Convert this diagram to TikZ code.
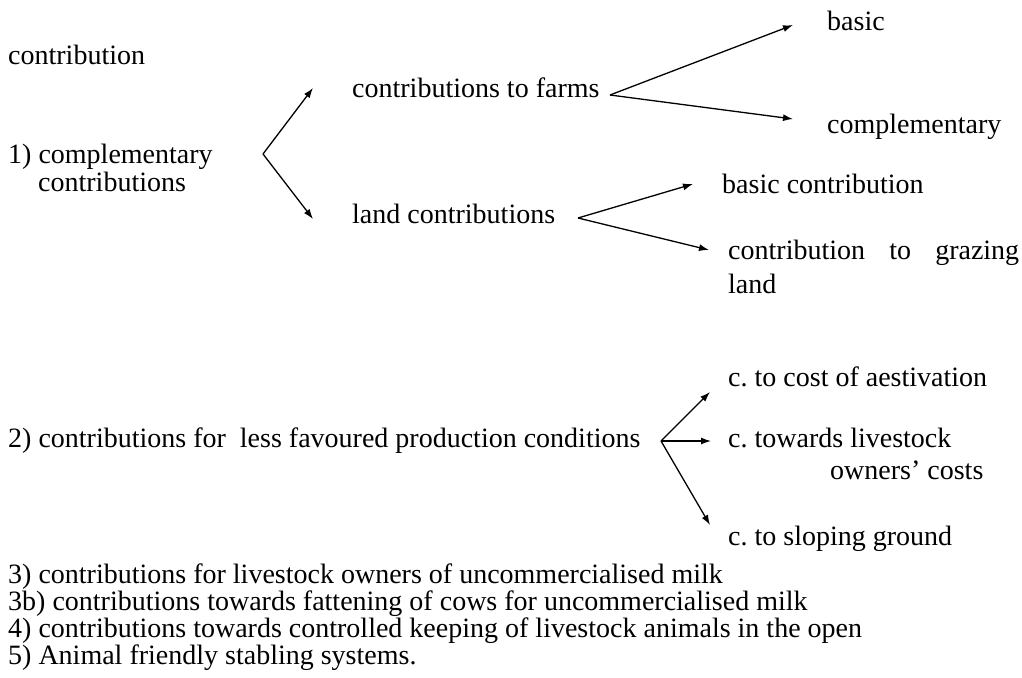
\documentclass[tikz,border=0pt]{standalone}
\usepackage{fontspec}
\setmainfont{Liberation Serif}
\usetikzlibrary{arrows.meta}
\begin{document}
\begin{tikzpicture}[x=1pt,y=-1pt,
  txt/.style={anchor=base west,inner sep=0pt,font=\fontsize{28}{30}\selectfont},
  arr/.style={line width=1.3pt,-{Latex[length=10pt,width=7pt]}}]
\useasboundingbox (0,0) rectangle (1022,677);
\node[txt] (t0) at (8,64) {contribution};
\node[txt] (farms) at (352,97) {contributions to farms};
\node[txt] (basic) at (827,31) {basic};
\node[txt] (compl) at (827,133) {complementary};
\node[txt] (c1a) at (8,163) {1) complementary};
\node[txt] (c1b) at (38,191) {contributions};
\node[txt] (land) at (352,223) {land contributions};
\node[txt] (bcon) at (722,193) {basic contribution};
\node[txt] (graz) at (728,259) {\hbox to 291pt{contribution\hfill to\hfill grazing}};
\node[txt] (land2) at (728,293) {land};
\node[txt] (aest) at (728,386) {c.\ to cost of aestivation};
\node[txt] (c2) at (8,447) {2) contributions for\ \ less favoured production conditions};
\node[txt] (tow) at (728,447) {c.\ towards livestock};
\node[txt] (own) at (830,479) {owners’ costs};
\node[txt] (slop) at (728,545) {c.\ to sloping ground};
\node[txt] (c3) at (8,583) {3) contributions for livestock owners of uncommercialised milk};
\node[txt] (c3b) at (8,610) {3b) contributions towards fattening of cows for uncommercialised milk};
\node[txt] (c4) at (8,637) {4) contributions towards controlled keeping of livestock animals in the open};
\node[txt] (c5) at (8,664) {5) Animal friendly stabling systems.};
\coordinate (b1) at (263,154);
\coordinate (b1u) at (313,88);
\coordinate (b1d) at (313,219);
\coordinate (b2) at (610,95);
\coordinate (b2u) at (793,25);
\coordinate (b2d) at (793,119);
\coordinate (b3) at (578,218);
\coordinate (b3u) at (693,184);
\coordinate (b3d) at (709,250);
\coordinate (b4) at (661,441);
\coordinate (b4u) at (710,392);
\coordinate (b4m) at (711,441);
\coordinate (b4d) at (710,525);
\draw[arr] (b1) -- (b1u);
\draw[arr] (b1) -- (b1d);
\draw[arr] (b2) -- (b2u);
\draw[arr] (b2) -- (b2d);
\draw[arr] (b3) -- (b3u);
\draw[arr] (b3) -- (b3d);
\draw[arr] (b4) -- (b4u);
\draw[arr] (b4) -- (b4m);
\draw[arr] (b4) -- (b4d);
\end{tikzpicture}
\end{document}
